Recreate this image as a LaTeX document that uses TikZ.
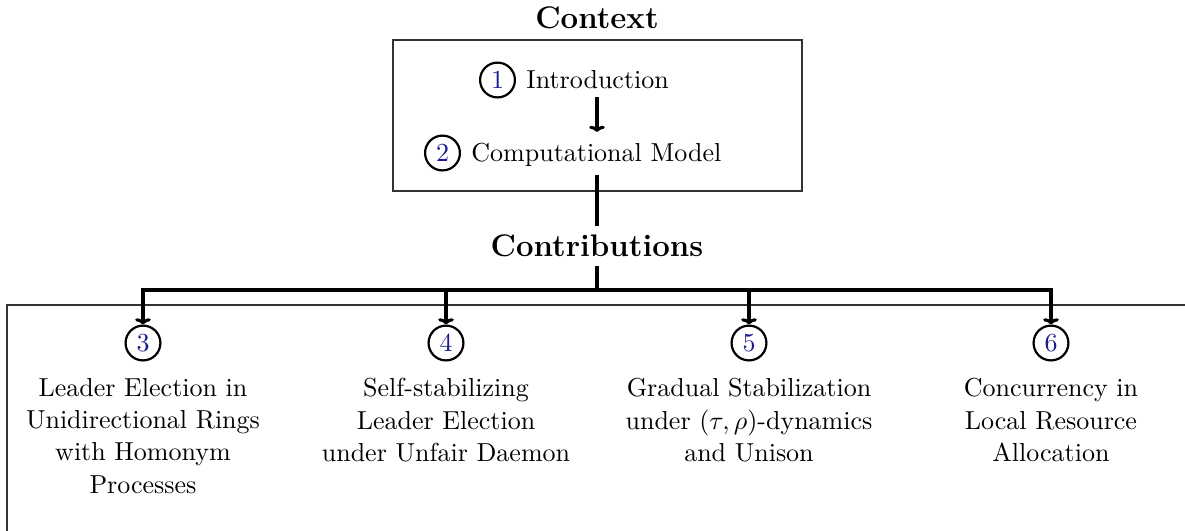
\documentclass[tikz,border=0pt]{standalone}
\usetikzlibrary{arrows.meta}
\definecolor{numblue}{RGB}{25,25,145}
\begin{document}
\begin{tikzpicture}[
  x=0.3846pt, y=-0.3846pt,
  heading/.style={font=\large\bfseries, inner sep=3.33pt},
  frame/.style={draw=black!80, line width=0.45pt},
  num/.style={circle, draw, line width=0.85pt, inner sep=0pt, minimum size=13.4pt,
              text=numblue, font=\normalsize},
  entry/.style={inner sep=0pt},
  topic/.style={align=center, inner sep=0pt,
                font=\fontsize{10}{12.4}\selectfont},
  link/.style={line width=1.2pt},
  arr/.style={line width=1.2pt, -{To[length=2.4pt,width=6pt]}},
]
\useasboundingbox (0,0) rectangle (1185,530);

% Context part
\node[heading] (ctxtitle) at (597,18) {Context};
\node[frame, minimum width=409*0.3846pt, minimum height=151*0.3846pt,
      inner sep=0pt] (ctx) at (597.5,115.5) {};

\node[num] (c1) at (497.5,80) {1};
\node[entry, anchor=base west] (intro) at ([xshift=3.8pt]c1.base east) {Introduction};
\node[num] (c2) at (442.5,153) {2};
\node[entry, anchor=base west] (model) at ([xshift=3.8pt]c2.base east) {Computational Model};

\coordinate (introout) at (597,97);
\coordinate (modelin) at (597,132);
\coordinate (modelout) at (597,175);
\draw[arr] (introout) -- (modelin);

% Contributions part
\node[heading] (contrib) at (597,246) {Contributions};
\draw[link] (modelout) -- (contrib.north);
\coordinate (bar) at (597,290);
\draw[link] (contrib.south) -- (bar);

\begin{scope}
  \clip (0,0) rectangle (1185,530);
  \draw[frame] (1200,305) -- (7,305) -- (7,545);
\end{scope}

\foreach \n/\x in {3/143, 4/446, 5/749, 6/1051} {
  \node[num] (c\n) at (\x,343) {\n};
  \draw[arr] (bar) -| (c\n.north);
}

\node[topic, anchor=north] (t3) at ([yshift=-6.3pt]c3.south)
  {Leader Election in\\Unidirectional Rings\\with Homonym\\Processes};
\node[topic, anchor=north] (t4) at ([yshift=-6.3pt]c4.south)
  {Self-stabilizing\\Leader Election\\under Unfair Daemon};
\node[topic, anchor=north] (t5) at ([yshift=-6.3pt]c5.south)
  {Gradual Stabilization\\under $(\tau,\rho)$-dynamics\\and Unison};
\node[topic, anchor=north] (t6) at ([yshift=-6.3pt]c6.south)
  {Concurrency in\\Local Resource\\Allocation};
\end{tikzpicture}
\end{document}
